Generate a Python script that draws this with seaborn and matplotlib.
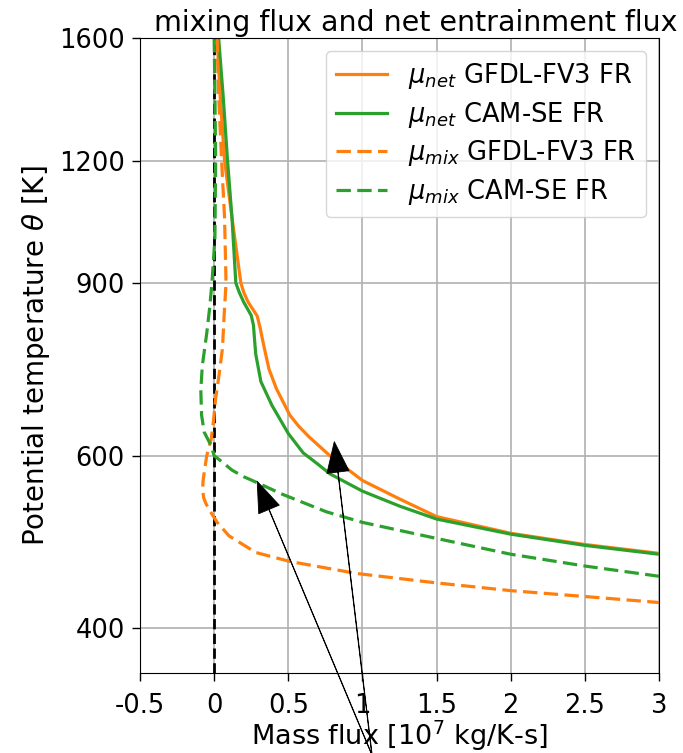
import matplotlib
matplotlib.use("Agg")
import matplotlib.pyplot as plt
from matplotlib.ticker import FixedLocator, NullLocator, FixedFormatter
import pandas as pd
import seaborn as sns

# Net entrainment flux, GFDL-FV3 FR
gfdl_net_theta = [1600, 1400, 1200, 1050, 900, 880, 860, 833, 810, 796, 770, 735, 702, 660, 643, 627, 600, 566, 542, 520, 500, 487, 477]
gfdl_net_flux = [0.02, 0.04, 0.07, 0.12, 0.18, 0.20, 0.23, 0.29, 0.31, 0.32, 0.34, 0.37, 0.42, 0.51, 0.57, 0.64, 0.78, 1.00, 1.25, 1.50, 2.00, 2.50, 3.00]

# Net entrainment flux, CAM-SE FR
cam_net_theta = [1600, 1400, 1200, 1050, 900, 880, 860, 834, 815, 796, 762, 714, 675, 632, 604, 588, 575, 552, 533, 517, 499, 486, 476]
cam_net_flux = [0.03, 0.06, 0.09, 0.12, 0.146, 0.17, 0.20, 0.25, 0.265, 0.27, 0.28, 0.315, 0.39, 0.50, 0.60, 0.70, 0.78, 1.00, 1.25, 1.50, 2.00, 2.50, 3.00]

# Mixing flux, GFDL-FV3 FR
gfdl_mix_theta = [1600, 1400, 1200, 1050, 900, 833, 772, 720, 686, 650, 624, 600, 580, 565, 553, 543, 536, 529, 513, 497, 478, 468, 455, 445, 437, 431, 425]
gfdl_mix_flux = [0.02, 0.03, 0.05, 0.07, 0.08, 0.067, 0.056, 0.03, 0.01, -0.005, -0.02, -0.05, -0.065, -0.075, -0.078, -0.07, -0.055, -0.035, 0.02, 0.10, 0.28, 0.51, 0.96, 1.50, 2.00, 2.50, 3.00]

# Mixing flux, CAM-SE FR
cam_mix_theta = [1600, 1400, 1200, 1000, 900, 850, 800, 741, 700, 660, 634, 614, 600, 591, 580, 571, 564, 548, 526, 513, 494, 476, 463, 452]
cam_mix_flux = [0.0, 0.005, 0.01, 0.005, -0.015, -0.03, -0.05, -0.08, -0.09, -0.085, -0.067, -0.02, 0.0, 0.055, 0.12, 0.20, 0.28, 0.46, 0.755, 1.00, 1.50, 2.00, 2.50, 3.00]

x_ticks = [-0.5, 0, 0.5, 1, 1.5, 2, 2.5, 3]
x_ticklabels = ["-0.5", "0", "0.5", "1", "1.5", "2", "2.5", "3"]
y_ticks = [400, 600, 900, 1200, 1600]
y_ticklabels = ["400", "600", "900", "1200", "1600"]

ORANGE = "#ff7f0e"
GREEN = "#2ca02c"
DASH = (0, (4.5, 2))

plt.rcParams["axes.unicode_minus"] = False
plt.rcParams["font.size"] = 18

fig = plt.figure(figsize=(6.83, 7.53), dpi=100)
ax = fig.add_axes([0.205, 0.106, 0.76, 0.8435])

series = [
    (gfdl_net_flux, gfdl_net_theta, ORANGE, "-", r"$\mu_{net}$ GFDL-FV3 FR"),
    (cam_net_flux, cam_net_theta, GREEN, "-", r"$\mu_{net}$ CAM-SE FR"),
    (gfdl_mix_flux, gfdl_mix_theta, ORANGE, DASH, r"$\mu_{mix}$ GFDL-FV3 FR"),
    (cam_mix_flux, cam_mix_theta, GREEN, DASH, r"$\mu_{mix}$ CAM-SE FR"),
]
for flux, theta, color, ls, label in series:
    df = pd.DataFrame({"flux": flux, "theta": theta})
    sns.lineplot(data=df, x="flux", y="theta", sort=False, orient="y",
                 color=color, linestyle=ls, linewidth=2.3, label=label, ax=ax)

ax.axvline(0, color="black", linestyle="--", linewidth=2.0, zorder=1)

ax.set_yscale("log")
ax.set_ylim(360, 1600)
ax.set_xlim(-0.5, 3)
ax.yaxis.set_major_locator(FixedLocator(y_ticks))
ax.yaxis.set_major_formatter(FixedFormatter(y_ticklabels))
ax.yaxis.set_minor_locator(NullLocator())
ax.set_xticks(x_ticks)
ax.set_xticklabels(x_ticklabels)
ax.grid(True, color="#b0b0b0", linewidth=1.2)
ax.set_axisbelow(True)
ax.tick_params(axis="both", labelsize=18.5, length=6, width=1)
ax.tick_params(axis="x", pad=8)
ax.tick_params(axis="y", pad=5)

ax.set_xlabel(r"Mass flux [10$^7$ kg/K-s]", fontsize=19.5, labelpad=0)
ax.set_ylabel(r"Potential temperature $\theta$ [K]", fontsize=20, labelpad=5)
ax.set_title("mixing flux and net entrainment flux", fontsize=20.5, pad=5, x=0.532)

ax.legend(loc="upper right", fontsize=18.5, handlelength=2.0, labelspacing=0.33)

# Arrows pointing from below the axes to the profiles
arrow_kw = dict(facecolor="black", edgecolor="black", width=0.3, headwidth=16, headlength=22, shrink=0.0, linewidth=0.6)
ax.annotate("", xy=(0.29, 565), xycoords="data", xytext=(372, -2), textcoords="figure pixels", arrowprops=arrow_kw)
ax.annotate("", xy=(0.81, 620), xycoords="data", xytext=(372, -2), textcoords="figure pixels", arrowprops=arrow_kw)

fig.savefig("out.png", dpi=100)
